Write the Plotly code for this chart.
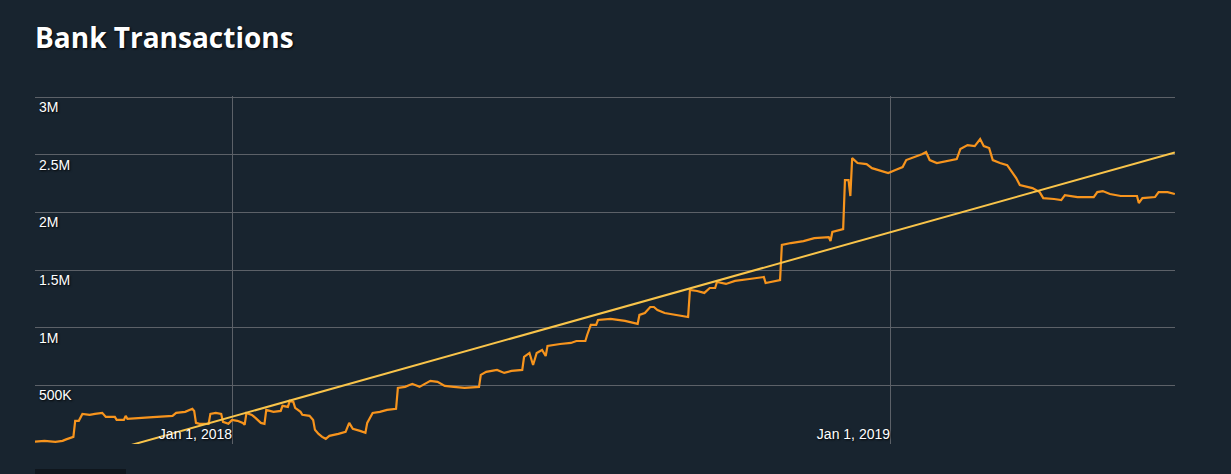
import plotly.graph_objects as go

# ---- data ----
dates = [
    "2017-09-13", "2017-09-19", "2017-09-25", "2017-09-29", "2017-10-01", "2017-10-04", "2017-10-05",
    "2017-10-06", "2017-10-08", "2017-10-10", "2017-10-14", "2017-10-17", "2017-10-21", "2017-10-23",
    "2017-10-28", "2017-10-29", "2017-11-02", "2017-11-03", "2017-11-04", "2017-11-16", "2017-11-29",
    "2017-12-01", "2017-12-06", "2017-12-10", "2017-12-11", "2017-12-12", "2017-12-14", "2017-12-19",
    "2017-12-20", "2017-12-23", "2017-12-26", "2017-12-27", "2017-12-30", "2018-01-01", "2018-01-04",
    "2018-01-07", "2018-01-08", "2018-01-09", "2018-01-12", "2018-01-14", "2018-01-17", "2018-01-19",
    "2018-01-20", "2018-01-24", "2018-01-28", "2018-01-29", "2018-02-01", "2018-02-02", "2018-02-04",
    "2018-02-05", "2018-02-08", "2018-02-09", "2018-02-13", "2018-02-15", "2018-02-16", "2018-02-18",
    "2018-02-20", "2018-02-22", "2018-02-24", "2018-03-01", "2018-03-05", "2018-03-07", "2018-03-09",
    "2018-03-13", "2018-03-16", "2018-03-17", "2018-03-20", "2018-03-24", "2018-03-28", "2018-04-02",
    "2018-04-03", "2018-04-07", "2018-04-11", "2018-04-15", "2018-04-21", "2018-04-25", "2018-04-29",
    "2018-05-04", "2018-05-10", "2018-05-18", "2018-05-19", "2018-05-22", "2018-05-28", "2018-06-01",
    "2018-06-05", "2018-06-11", "2018-06-12", "2018-06-15", "2018-06-17", "2018-06-19", "2018-06-22",
    "2018-06-24", "2018-06-25", "2018-07-02", "2018-07-08", "2018-07-11", "2018-07-16", "2018-07-17",
    "2018-07-19", "2018-07-22", "2018-07-23", "2018-07-30", "2018-08-07", "2018-08-14", "2018-08-15",
    "2018-08-18", "2018-08-21", "2018-08-23", "2018-08-25", "2018-08-29", "2018-09-04", "2018-09-11",
    "2018-09-12", "2018-09-16", "2018-09-20", "2018-09-23", "2018-09-26", "2018-09-27", "2018-10-02",
    "2018-10-07", "2018-10-15", "2018-10-21", "2018-10-23", "2018-10-24", "2018-10-29", "2018-11-01",
    "2018-11-02", "2018-11-07", "2018-11-14", "2018-11-20", "2018-11-28", "2018-11-29", "2018-11-30",
    "2018-12-06", "2018-12-07", "2018-12-09", "2018-12-10", "2018-12-11", "2018-12-14", "2018-12-19",
    "2018-12-22", "2018-12-26", "2018-12-31", "2019-01-04", "2019-01-08", "2019-01-10", "2019-01-15",
    "2019-01-19", "2019-01-21", "2019-01-23", "2019-01-27", "2019-02-02", "2019-02-07", "2019-02-09",
    "2019-02-13", "2019-02-17", "2019-02-20", "2019-02-22", "2019-02-25", "2019-02-27", "2019-03-03",
    "2019-03-07", "2019-03-10", "2019-03-12", "2019-03-14", "2019-03-21", "2019-03-25", "2019-03-27",
    "2019-04-02", "2019-04-06", "2019-04-08", "2019-04-15", "2019-04-24", "2019-04-26", "2019-04-29",
    "2019-05-03", "2019-05-09", "2019-05-18", "2019-05-19", "2019-05-21", "2019-05-28", "2019-05-30",
    "2019-06-04", "2019-06-08",
]
values = [
    9000, 17000, 9000, 17000, 30000, 43000, 52000,
    191000, 191000, 251000, 243000, 251000, 260000, 225000,
    225000, 199000, 199000, 234000, 208000, 221000, 234000,
    260000, 269000, 295000, 277000, 173000, 165000, 165000,
    251000, 260000, 251000, 182000, 165000, 199000, 191000,
    173000, 156000, 260000, 243000, 217000, 173000, 165000,
    286000, 269000, 277000, 321000, 312000, 364000, 355000,
    303000, 269000, 243000, 234000, 199000, 113000, 78000,
    52000, 35000, 61000, 78000, 95000, 173000, 121000,
    104000, 87000, 173000, 260000, 269000, 286000, 295000,
    477000, 486000, 512000, 486000, 538000, 529000, 494000,
    486000, 477000, 486000, 590000, 616000, 633000, 607000,
    624000, 633000, 746000, 780000, 676000, 780000, 806000,
    754000, 841000, 858000, 867000, 884000, 884000, 936000,
    1023000, 1023000, 1066000, 1075000, 1058000, 1032000, 1110000,
    1127000, 1179000, 1179000, 1153000, 1127000, 1110000, 1092000,
    1327000, 1318000, 1301000, 1344000, 1344000, 1396000, 1379000,
    1405000, 1422000, 1439000, 1439000, 1387000, 1405000, 1413000,
    1717000, 1734000, 1751000, 1777000, 1786000, 1751000, 1830000,
    1855000, 2280000, 2280000, 2142000, 2471000, 2428000, 2419000,
    2384000, 2367000, 2341000, 2367000, 2393000, 2454000, 2480000,
    2506000, 2523000, 2454000, 2428000, 2445000, 2462000, 2549000,
    2584000, 2575000, 2636000, 2575000, 2558000, 2454000, 2428000,
    2410000, 2341000, 2298000, 2237000, 2211000, 2176000, 2124000,
    2116000, 2107000, 2150000, 2133000, 2133000, 2176000, 2185000,
    2159000, 2142000, 2142000, 2081000, 2124000, 2133000, 2176000,
    2176000, 2159000,
]

trend_dates = ["2017-09-13", "2019-06-08"]
trend_values = [-256000, 2520000]

y_tick_values = [500000, 1000000, 1500000, 2000000, 2500000, 3000000]
y_tick_labels = ["500K", "1M", "1.5M", "2M", "2.5M", "3M"]
title_text = "Bank Transactions"

BG = "#18242f"
GRID = "#5c6168"
SHADOW = "1px 1px 2px rgba(0,0,0,0.9)"

fig = go.Figure()
fig.add_trace(go.Scatter(
    x=dates, y=values, mode="lines",
    line=dict(color="#f7941d", width=2.2),
    name="Transactions", showlegend=False,
))
fig.add_trace(go.Scatter(
    x=trend_dates, y=trend_values, mode="lines",
    line=dict(color="#f9c44a", width=2),
    name="Trend", showlegend=False,
))

fig.update_layout(
    width=1231, height=474,
    paper_bgcolor=BG, plot_bgcolor=BG,
    margin=dict(l=35, r=56, t=96, b=30),
    title=dict(
        text=f"<b>{title_text}</b>",
        font=dict(family="Open Sans", size=28, color="#ffffff", shadow=SHADOW),
        x=35 / 1231, xref="container", xanchor="left",
        y=1 - 38 / 474, yref="container", yanchor="middle",
    ),
    font=dict(family="Liberation Sans, Arial", size=14, color="#ffffff"),
    xaxis=dict(
        type="date",
        range=["2017-09-13 17:00", "2019-06-08 02:00"],
        dtick="M12", tick0="2018-01-01",
        tickformat="%b %-d, %Y",
        ticklabelposition="inside left",
        ticklabelstandoff=-4,
        showgrid=True, gridcolor=GRID, gridwidth=1,
        showline=False, zeroline=False, ticks="",
        tickfont=dict(family="Liberation Sans, Arial", size=14, color="#ffffff", shadow=SHADOW),
    ),
    yaxis=dict(
        range=[-10000, 3010000],
        tickvals=y_tick_values, ticktext=y_tick_labels,
        ticklabelposition="inside",
        ticklabelshift=10,
        ticklabelstandoff=1,
        showgrid=True, gridcolor=GRID, gridwidth=1,
        zeroline=True, zerolinecolor=GRID, zerolinewidth=1,
        showline=False, ticks="",
        tickfont=dict(family="Liberation Sans, Arial", size=14, color="#ffffff", shadow=SHADOW),
    ),
    shapes=[dict(
        type="rect", xref="paper", yref="paper",
        x0=0, x1=(126 - 35) / 1140, y0=(444 - 480) / 348, y1=(444 - 469) / 348,
        fillcolor="#0f161d", line=dict(width=0), layer="above",
    )],
)

fig.write_html(
    "out.html",
    config={"displayModeBar": False},
    post_script="document.body.style.margin='0';document.body.style.overflow='hidden';",
)
